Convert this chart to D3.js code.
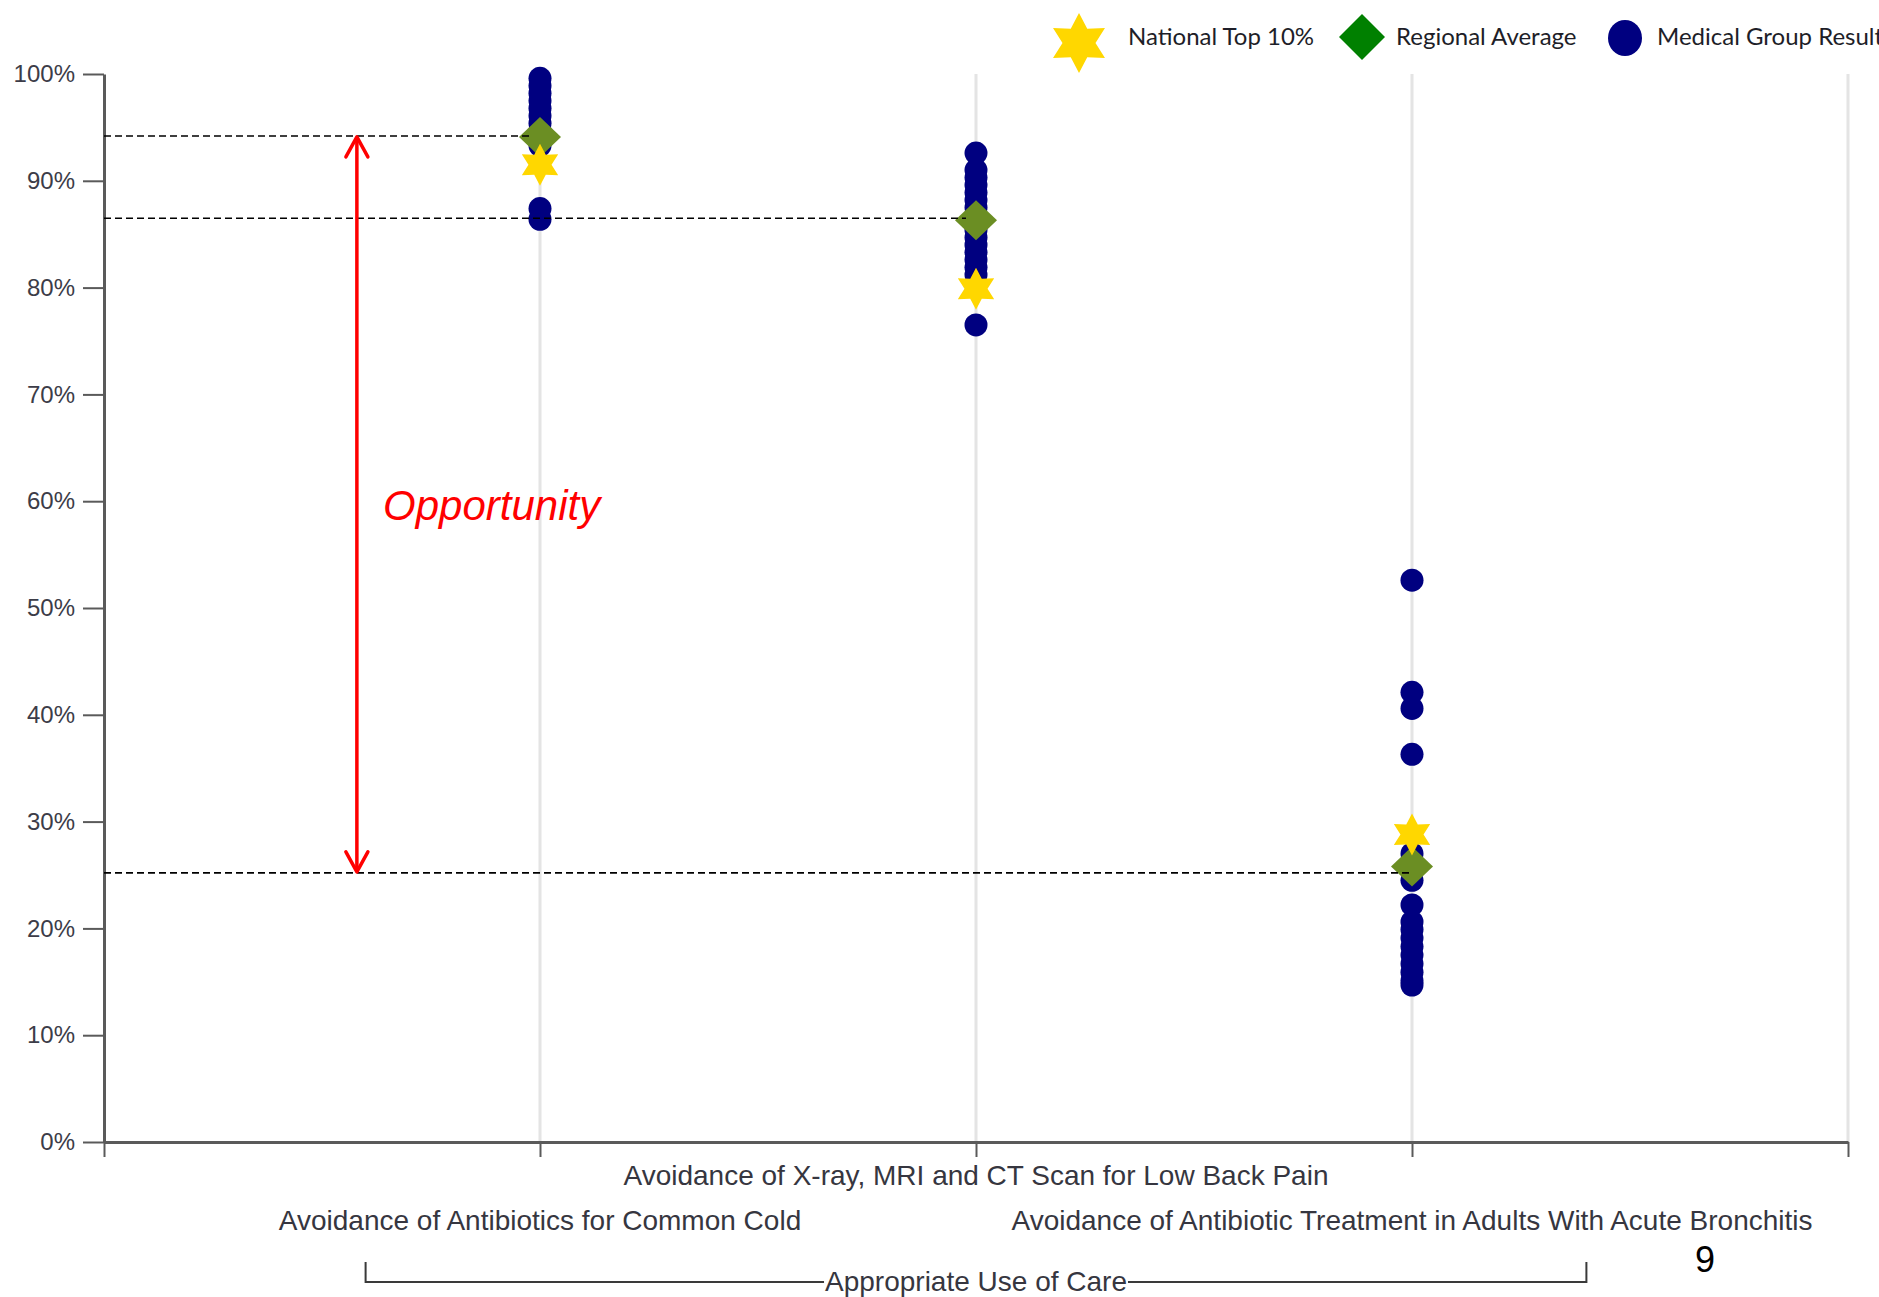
<!DOCTYPE html>
<html>
<head>
<meta charset="utf-8">
<script src="https://cdn.jsdelivr.net/npm/d3@7"></script>
<style>
  html, body { margin: 0; padding: 0; background: #ffffff; }
  svg { display: block; }
</style>
</head>
<body>
<svg id="chart" width="1879" height="1297"></svg>
<script>
// ---------------- DATA ----------------
const categories = [
  "Avoidance of Antibiotics for Common Cold",
  "Avoidance of X-ray, MRI and CT Scan for Low Back Pain",
  "Avoidance of Antibiotic Treatment in Adults With Acute Bronchitis"
];
const groupLabel = "Appropriate Use of Care";
const medicalGroupCold = [99.6, 98.9, 98.2, 97.5, 96.8, 96.1, 95.4, 94.7, 94.0, 93.3, 87.4, 86.4];
const medicalGroupBackPain = [92.6, 91.0, 90.3, 89.6, 88.9, 88.2, 87.5, 86.8, 86.1, 85.4, 84.7, 84.0, 83.3, 82.6, 81.9, 81.2, 76.5];
const medicalGroupBronchitis = [52.6, 42.1, 40.6, 36.3, 27.0, 24.5, 22.2, 20.6, 19.9, 19.1, 18.3, 17.5, 16.7, 15.9, 15.1, 14.7];
const nationalTop10 = [91.5, 79.9, 28.8];
const regionalAverage = [94.1, 86.3, 25.8];
const referenceLines = [94.2, 86.5, 25.2];   // dashed lines, one per category
const opportunityRange = [25.2, 94.2];
const yTicks = [0, 10, 20, 30, 40, 50, 60, 70, 80, 90, 100];
const legendLabels = ["National Top 10%", "Regional Average", "Medical Group Result"];
const pageNumber = "9";

// ---------------- SETUP ----------------
const svg = d3.select("#chart");
const x = d3.scaleLinear().domain([0, 4]).range([104, 1848]);
const y = d3.scaleLinear().domain([0, 100]).range([1142, 74]);

const COLORS = { dot: "#000080", diamond: "#6B8E23", legendDiamond: "#008000", star: "#FFD700" };

function starPath(R, ratio) {
  const pts = [];
  for (let i = 0; i < 12; i++) {
    const r = i % 2 === 0 ? R : R * ratio;
    const a = i * Math.PI / 6;
    pts.push([a, r]);
  }
  return d3.lineRadial().curve(d3.curveLinearClosed)(pts);
}
function diamondPath(hw, hh) {
  return `M0,${-hh}L${hw},0L0,${hh}L${-hw},0Z`;
}

// ---------------- GRID ----------------
svg.append("g").selectAll("line")
  .data([1, 2, 3, 4])
  .join("line")
  .attr("x1", d => x(d)).attr("x2", d => x(d))
  .attr("y1", y(100)).attr("y2", y(0))
  .attr("stroke", "#e4e4e4").attr("stroke-width", 3);

// ---------------- AXES ----------------
const yAxis = svg.append("g")
  .attr("transform", `translate(${x(0)},0)`)
  .call(d3.axisLeft(y).tickValues(yTicks).tickSize(21).tickSizeOuter(0).tickPadding(8).tickFormat(d => d + "%"));
yAxis.select(".domain").attr("stroke", "#5a5a5a").attr("stroke-width", 3);
yAxis.selectAll(".tick line").attr("stroke", "#5a5a5a").attr("stroke-width", 2);
yAxis.selectAll(".tick text")
  .attr("font-family", "'Liberation Sans', Arial, sans-serif")
  .attr("font-size", 24).attr("fill", "#3c3c48");

const xAxis = svg.append("g")
  .attr("transform", `translate(0,${y(0)})`)
  .call(d3.axisBottom(x).tickValues([0, 1, 2, 3, 4]).tickSize(15).tickSizeOuter(0).tickFormat(""));
xAxis.select(".domain").attr("stroke", "#5a5a5a").attr("stroke-width", 3);
xAxis.selectAll(".tick line").attr("stroke", "#5a5a5a").attr("stroke-width", 2);

// category labels (staggered)
svg.append("g").selectAll("text")
  .data(categories)
  .join("text")
  .attr("x", (d, i) => x(i + 1))
  .attr("y", (d, i) => i % 2 === 1 ? y(0) + 43 : y(0) + 88)
  .attr("text-anchor", "middle")
  .attr("font-family", "'Liberation Sans', Arial, sans-serif")
  .attr("font-size", 28)
  .attr("fill", "#363640")
  .text(d => d);

// group bracket
const bracketTop = y(0) + 120, bracketBottom = y(0) + 140;
const bracket = svg.append("g");
bracket.append("path")
  .attr("d", `M${x(0.6)},${bracketTop}V${bracketBottom}H${x(3.4)}V${bracketTop}`)
  .attr("fill", "none").attr("stroke", "#3a3a3a").attr("stroke-width", 2);
const gRect = bracket.append("rect").attr("fill", "#ffffff");
const gText = bracket.append("text")
  .attr("x", x(2)).attr("y", y(0) + 149)
  .attr("text-anchor", "middle")
  .attr("font-family", "'Liberation Sans', Arial, sans-serif")
  .attr("font-size", 28).attr("fill", "#363640")
  .text(groupLabel);
const bb = gText.node().getBBox();
gRect.attr("x", bb.x - 1).attr("y", bracketBottom - 3)
  .attr("width", bb.width + 2).attr("height", 6);

// ---------------- MARKS ----------------
const dotSeries = [medicalGroupCold, medicalGroupBackPain, medicalGroupBronchitis];
const dotData = dotSeries.flatMap((vals, i) => vals.map(v => ({ cat: i + 1, v })));
svg.append("g").selectAll("circle")
  .data(dotData)
  .join("circle")
  .attr("cx", d => x(d.cat)).attr("cy", d => y(d.v))
  .attr("r", 11.5)
  .attr("fill", COLORS.dot);

svg.append("g").selectAll("path")
  .data(regionalAverage)
  .join("path")
  .attr("transform", (d, i) => `translate(${x(i + 1)},${y(d)})`)
  .attr("d", diamondPath(21, 20))
  .attr("fill", COLORS.diamond);

svg.append("g").selectAll("path")
  .data(nationalTop10)
  .join("path")
  .attr("transform", (d, i) => `translate(${x(i + 1)},${y(d)})`)
  .attr("d", starPath(21, 0.55))
  .attr("fill", COLORS.star);

// dashed reference lines
svg.append("g").selectAll("line")
  .data(referenceLines)
  .join("line")
  .attr("x1", x(0)).attr("x2", (d, i) => x(i + 1) - (i === 2 ? 0 : 10))
  .attr("y1", d => y(d)).attr("y2", d => y(d))
  .attr("stroke", "#000").attr("stroke-width", 1.6)
  .attr("stroke-dasharray", "7,4");

// opportunity arrow
const ax = x(0.58);
const arrow = svg.append("g").attr("stroke", "#ff0000").attr("stroke-width", 3.5).attr("fill", "none")
  .attr("stroke-linecap", "round").attr("stroke-linejoin", "round");
arrow.append("line")
  .attr("x1", ax).attr("x2", ax)
  .attr("y1", y(opportunityRange[1]) + 2).attr("y2", y(opportunityRange[0]) - 2);
arrow.append("path")
  .attr("d", `M${ax - 11},${y(opportunityRange[1]) + 21}L${ax},${y(opportunityRange[1]) + 1}L${ax + 11},${y(opportunityRange[1]) + 21}`);
arrow.append("path")
  .attr("d", `M${ax - 11},${y(opportunityRange[0]) - 21}L${ax},${y(opportunityRange[0]) - 1}L${ax + 11},${y(opportunityRange[0]) - 21}`);
svg.append("text")
  .attr("x", x(0.64)).attr("y", y(58.2))
  .attr("font-family", "'Liberation Sans', Arial, sans-serif")
  .attr("font-style", "italic")
  .attr("font-size", 42).attr("fill", "#ff0000")
  .text("Opportunity");

// ---------------- LEGEND ----------------
const legend = svg.append("g")
  .attr("font-family", "Lato, 'Open Sans', sans-serif")
  .attr("font-size", 24).attr("fill", "#1e1e28");
const legendItems = [
  { label: legendLabels[0], sx: 1079, sy: 43, tx: 1128, draw: g => g.append("path").attr("d", starPath(30, 0.55)).attr("fill", COLORS.star) },
  { label: legendLabels[1], sx: 1362, sy: 37, tx: 1396, draw: g => g.append("path").attr("d", diamondPath(23, 23)).attr("fill", COLORS.legendDiamond) },
  { label: legendLabels[2], sx: 1625, sy: 38, tx: 1657, draw: g => g.append("ellipse").attr("rx", 17).attr("ry", 18).attr("fill", COLORS.dot) }
];
legendItems.forEach(it => {
  const g = legend.append("g").attr("transform", `translate(${it.sx},${it.sy})`);
  it.draw(g);
  legend.append("text").attr("x", it.tx).attr("y", 45).text(it.label);
});

// page number
svg.append("text")
  .attr("x", 1705).attr("y", 1272)
  .attr("text-anchor", "middle")
  .attr("font-family", "'Liberation Sans', Arial, sans-serif")
  .attr("font-size", 36).attr("fill", "#000")
  .text(pageNumber);
</script>
</body>
</html>
